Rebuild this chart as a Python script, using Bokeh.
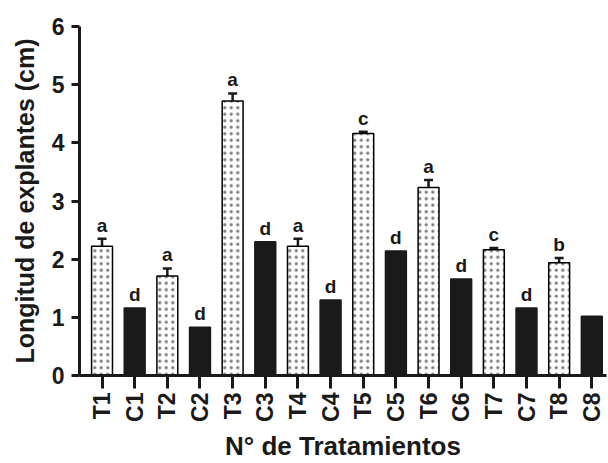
import math
from bokeh.plotting import figure
from bokeh.models import ColumnDataSource, Range1d, FixedTicker, Whisker, TeeHead
from bokeh.core.properties import value
from bokeh.embed import file_html
from bokeh.resources import INLINE

categories = ["T1", "C1", "T2", "C2", "T3", "C3", "T4", "C4",
              "T5", "C5", "T6", "C6", "T7", "C7", "T8", "C8"]
means = [2.22, 1.16, 1.71, 0.83, 4.72, 2.30, 2.22, 1.30,
         4.16, 2.14, 3.23, 1.66, 2.16, 1.16, 1.94, 1.02]
errors = [0.13, 0.0, 0.13, 0.0, 0.13, 0.0, 0.13, 0.0,
          0.03, 0.0, 0.13, 0.0, 0.03, 0.0, 0.08, 0.0]
letters = ["a", "d", "a", "d", "a", "d", "a", "d",
           "c", "d", "a", "d", "c", "d", "b", ""]
y_ticks = [0, 1, 2, 3, 4, 5, 6]

FONT = "Liberation Sans"

idx = list(range(len(categories)))
t_idx = [i for i, c in enumerate(categories) if c.startswith("T")]
c_idx = [i for i, c in enumerate(categories) if c.startswith("C")]

src_t = ColumnDataSource(dict(
    x=t_idx,
    top=[means[i] for i in t_idx],
    upper=[means[i] + errors[i] for i in t_idx],
    lower=[means[i] - errors[i] for i in t_idx],
))
src_c = ColumnDataSource(dict(
    x=c_idx,
    top=[means[i] for i in c_idx],
))
src_lab = ColumnDataSource(dict(
    x=idx,
    y=[m + e for m, e in zip(means, errors)],
    text=letters,
))

p = figure(width=608, height=463, output_backend="svg", toolbar_location=None,
           x_range=Range1d(-0.69, 15.45), y_range=Range1d(0, 6),
           min_border_left=79, min_border_top=26, min_border_bottom=87,
           min_border_right=2)
p.outline_line_color = None
p.xgrid.visible = False
p.ygrid.visible = False

p.vbar(x="x", top="top", width=0.64, bottom=0, source=src_t,
       fill_color="white", line_color="black", line_width=1.5,
       hatch_pattern="dot", hatch_color="#777777", hatch_scale=6.5, hatch_weight=1.4)
p.vbar(x="x", top="top", width=0.64, bottom=0, source=src_c,
       fill_color="#1a1a1a", line_color="#1a1a1a", line_width=1.5)

wh = Whisker(base="x", upper="upper", lower="lower", source=src_t,
             line_color="#1a1a1a", line_width=2.5,
             upper_head=TeeHead(size=9, line_width=2.5, line_color="#1a1a1a"),
             lower_head=TeeHead(size=9, line_width=2.5, line_color="#1a1a1a"))
p.add_layout(wh)

p.text(x="x", y="y", text="text", source=src_lab, text_align="center",
       text_baseline="bottom", y_offset=-3, text_font=value(FONT),
       text_font_style="bold", text_font_size="19px", text_color="#1a1a1a")

# axes
for ax in (p.xaxis[0], p.yaxis[0]):
    ax.axis_line_width = 3
    ax.axis_line_color = "#1a1a1a"
    ax.major_tick_line_width = 3
    ax.major_tick_line_color = "#1a1a1a"
    ax.major_tick_in = 0
    ax.minor_tick_line_color = None
    ax.major_label_text_font = FONT
    ax.major_label_text_font_style = "bold"
    ax.major_label_text_font_size = "23px"
    ax.major_label_text_color = "#1a1a1a"
    ax.axis_label_text_font = FONT
    ax.axis_label_text_font_style = "bold"
    ax.axis_label_text_color = "#1a1a1a"

p.xaxis.ticker = FixedTicker(ticks=idx)
p.xaxis.major_label_overrides = {i: c for i, c in enumerate(categories)}
p.xaxis.major_label_orientation = math.pi / 2
p.xaxis.major_tick_out = 13
p.xaxis.major_label_standoff = 4
p.xaxis.axis_label = "N° de Tratamientos"
p.xaxis.axis_label_text_font_size = "26px"
p.xaxis.axis_label_standoff = 6

p.yaxis.ticker = FixedTicker(ticks=y_ticks)
p.yaxis.major_tick_out = 8
p.yaxis.major_label_standoff = 7
p.yaxis.axis_label = "Longitud de explantes (cm)"
p.yaxis.axis_label_text_font_size = "25px"
p.yaxis.axis_label_standoff = 10

open("out.html", "w").write(file_html(p, INLINE))
